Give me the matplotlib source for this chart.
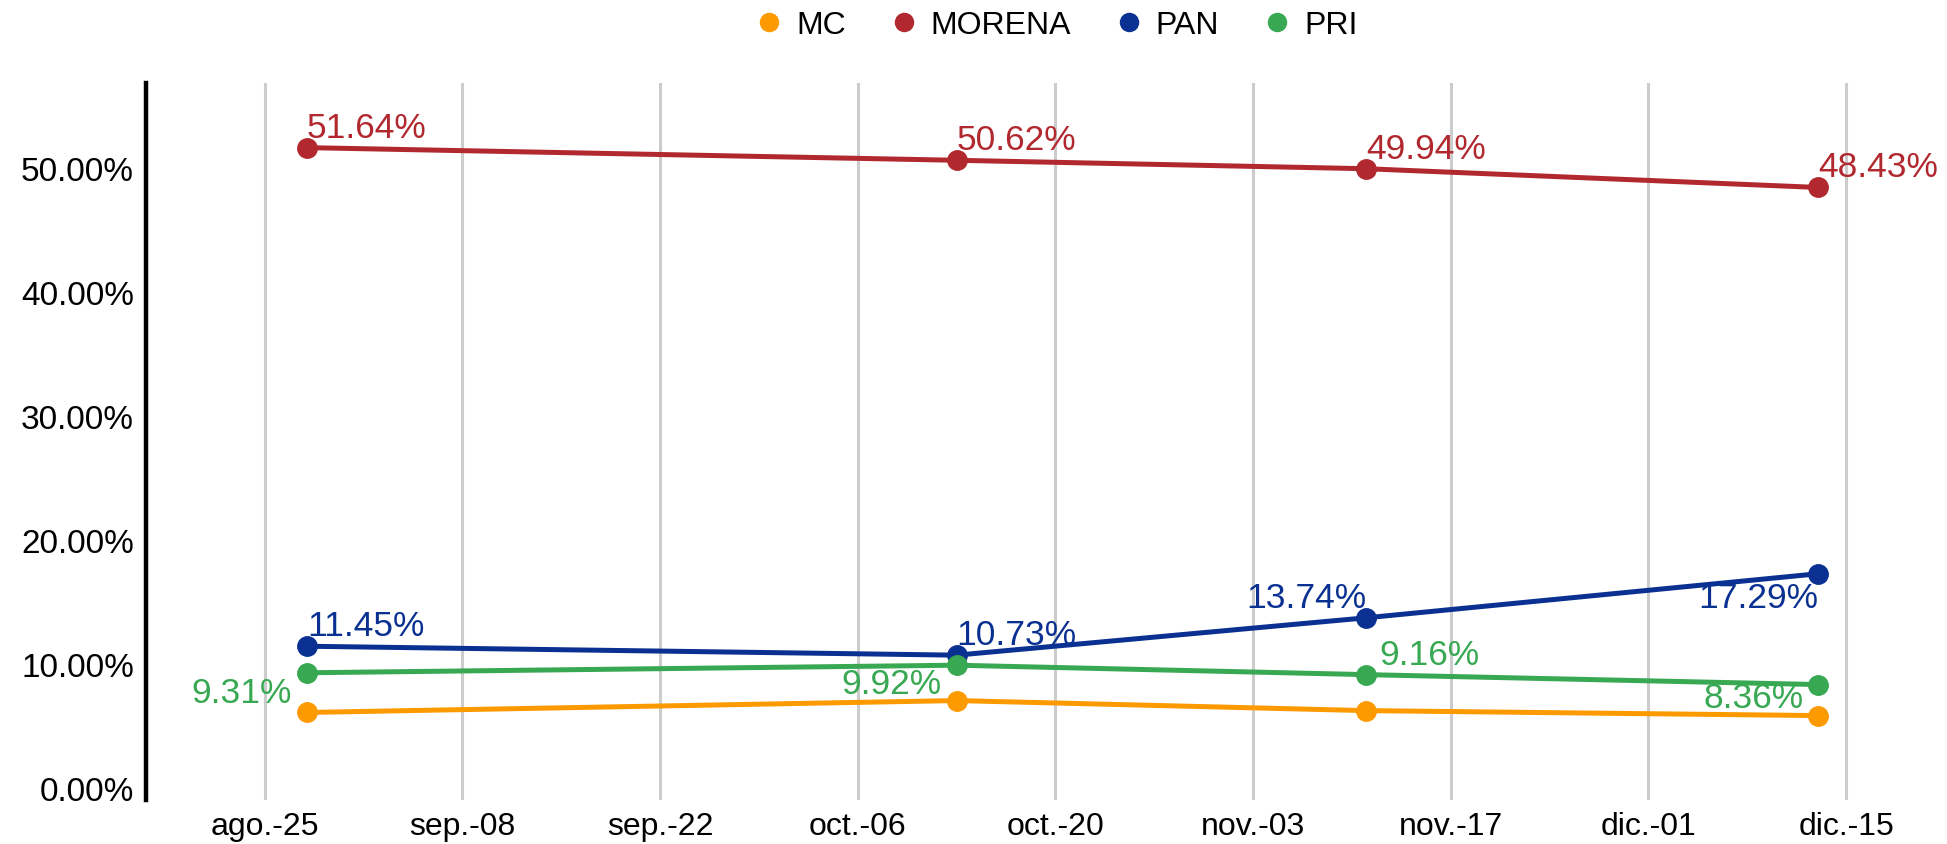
import matplotlib
matplotlib.use("Agg")
import matplotlib.pyplot as plt
from matplotlib.lines import Line2D
from matplotlib.ticker import FuncFormatter
import pandas as pd

plt.rcParams['font.family'] = ['Liberation Sans', 'DejaVu Sans']

# data
fechas = pd.to_datetime(['2025-08-28', '2025-10-13', '2025-11-11', '2025-12-13'])
partidos = ['MC', 'MORENA', 'PAN', 'PRI']
mc = [6.11, 7.07, 6.26, 5.86]
morena = [51.64, 50.62, 49.94, 48.43]
pan = [11.45, 10.73, 13.74, 17.29]
pri = [9.31, 9.92, 9.16, 8.36]

tick_fechas = pd.date_range('2025-08-25', periods=9, freq='14D')
tick_labels = ['ago.-25', 'sep.-08', 'sep.-22', 'oct.-06', 'oct.-20',
               'nov.-03', 'nov.-17', 'dic.-01', 'dic.-15']
y_ticks = [0, 10, 20, 30, 40, 50]

colores = {'MC': '#fd9a00', 'MORENA': '#b2282f', 'PAN': '#0a3192', 'PRI': '#38a852'}
series = {'MC': mc, 'MORENA': morena, 'PAN': pan, 'PRI': pri}

# label placement: (dx, dy, ha, va) in points, None = no label
arriba_der = (0, 8, 'left', 'baseline')
etiquetas = {
    'MC': [None, None, None, None],
    'MORENA': [arriba_der] * 4,
    'PAN': [arriba_der, arriba_der, (0, 8, 'right', 'baseline'), (0, -5, 'right', 'top')],
    'PRI': [(-11, -2.5, 'right', 'top'), (-11, -1, 'right', 'top'),
            (10, 8, 'left', 'baseline'), (-10, 2.5, 'right', 'top')],
}

fig = plt.figure(figsize=(19.47, 8.45), dpi=100)
ax = fig.add_axes([0.0752, 0.052, 0.8802, 0.8486])

for p in partidos:
    ax.plot(fechas, series[p], color=colores[p], lw=3.6, marker='o', ms=14,
            solid_capstyle='round', zorder=3)
    for x, y, pos in zip(fechas, series[p], etiquetas[p]):
        if pos is None:
            continue
        dx, dy, ha, va = pos
        ax.annotate(f'{y:.2f}%', (x, y), xytext=(dx, dy), textcoords='offset points',
                    ha=ha, va=va, color=colores[p], fontsize=25.5, zorder=4)

ax.set_xlim(pd.Timestamp('2025-08-16 15:00'), pd.Timestamp('2025-12-16'))
ax.set_ylim(-0.95, 56.85)
ax.set_xticks(tick_fechas)
ax.set_xticklabels(tick_labels)
ax.set_yticks(y_ticks)
ax.yaxis.set_major_formatter(FuncFormatter(lambda v, _: f'{v:.2f}%'))
ax.tick_params(axis='x', length=0, labelsize=23, pad=8)
ax.tick_params(axis='y', length=0, labelsize=24, pad=9)

ax.xaxis.grid(True, color='#cccccc', lw=2.2)
ax.yaxis.grid(False)
ax.set_axisbelow(True)
for s in ['top', 'right', 'bottom']:
    ax.spines[s].set_visible(False)
ax.spines['left'].set_linewidth(3.2)
ax.spines['left'].set_color('black')

handles = [Line2D([], [], color=colores[p], marker='o', ls='none', ms=13) for p in partidos]
fig.legend(handles, partidos, loc='upper center', bbox_to_anchor=(0.542, 1.021), ncol=4,
           frameon=False, fontsize=23, handletextpad=0.35, columnspacing=1.3,
           handlelength=1.0)

fig.savefig('out.png', dpi=100)
